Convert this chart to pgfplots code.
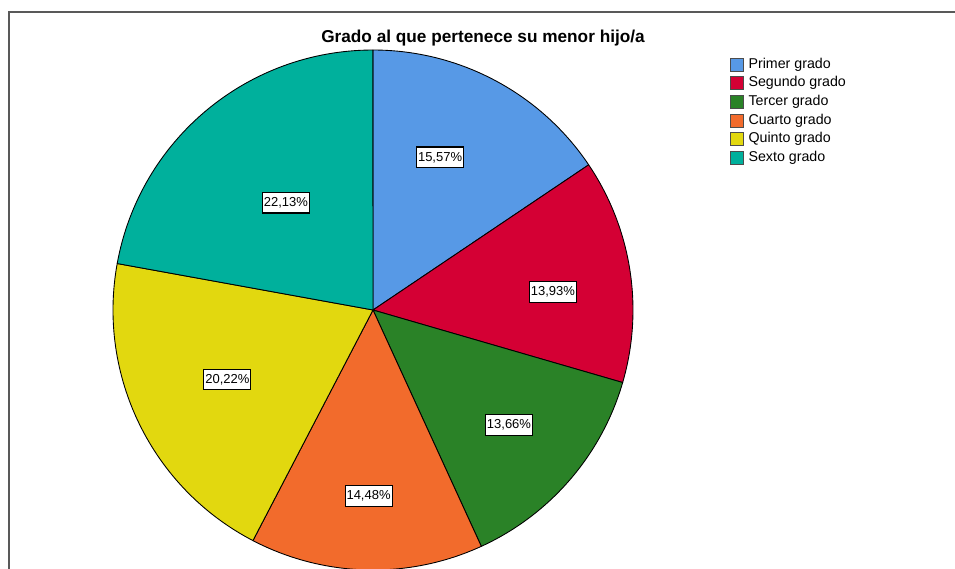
\documentclass[border=0pt]{standalone}
\usepackage{pgfplots}
\pgfplotsset{compat=1.18}
\usepackage{pgfplotstable}
\usepackage{fontspec}
\setmainfont{Liberation Sans}

\definecolor{c0}{RGB}{87,153,230}
\definecolor{c1}{RGB}{212,0,52}
\definecolor{c2}{RGB}{42,130,39}
\definecolor{c3}{RGB}{242,107,44}
\definecolor{c4}{RGB}{226,216,15}
\definecolor{c5}{RGB}{0,176,156}

\tikzset{lbl/.style={fill=white, draw=black, line width=0.6pt, inner xsep=0.8pt,
    inner ysep=2pt, text height=6pt, text depth=1.8pt,
    font=\fontsize{7.4}{8}\selectfont}}

% pct = porcentaje; lx, ly = centro de la etiqueta (radio = 1)
\pgfplotstableread{
grado   pct    lx      ly
Primer  15.57  0.258   0.587
Segundo 13.93  0.692   0.069
Tercer  13.66  0.523  -0.442
Cuarto  14.48 -0.017  -0.715
Quinto  20.22 -0.560  -0.267
Sexto   22.13 -0.335   0.413
}\grados

\begin{document}
\begin{tikzpicture}
\useasboundingbox (0,0) rectangle (19.1cm,11.36cm);
\begin{scope}
  \clip (0,0) rectangle (19.1cm,11.36cm);
  \draw[line width=0.8pt, black!65] (0.18cm,-1cm) rectangle (20cm,11.12cm);
\end{scope}
\node[font=\bfseries\fontsize{9.8}{11}\selectfont] at (9.66cm,10.6cm) {Grado al que pertenece su menor hijo/a};

\begin{axis}[
  at={(7.46cm,5.16cm)}, anchor=center,
  x=5.2cm, y=5.2cm,
  xmin=-1.1, xmax=1.1, ymin=-1.1, ymax=1.1,
  hide axis, clip=false,
  legend image code/.code={\draw[#1] (0pt,-3.7pt) rectangle (7.4pt,3.7pt);},
  legend style={at={(1.124,0.9415)}, anchor=north west, draw=none, fill=none,
    inner sep=0pt, row sep=2.8pt, column sep=2.6pt,
    font=\fontsize{8.1}{9}\selectfont,
    nodes={inner sep=0pt, text height=5.8pt, text depth=1.6pt},
    cells={anchor=west}},
]
\def\cum{0}
\pgfplotsforeachungrouped \i in {0,...,5}{%
  \pgfplotstablegetelem{\i}{pct}\of\grados
  \let\v\pgfplotsretval
  \pgfmathsetmacro\a{90-3.6*\cum}
  \pgfmathsetmacro\b{90-3.6*(\cum+\v)}
  \pgfmathsetmacro\cum{\cum+\v}
  \edef\temp{\noexpand\filldraw[fill=c\i, draw=black, line width=0.5pt, line join=round]
    (axis cs:0,0) -- (axis cs:{cos(\a)},{sin(\a)})
    arc[start angle=\a, end angle=\b, radius=5.2cm] -- cycle;}
  \temp
}
\pgfplotsforeachungrouped \i in {0,...,5}{%
  \pgfplotstablegetelem{\i}{pct}\of\grados
  \let\v\pgfplotsretval
  \pgfplotstablegetelem{\i}{lx}\of\grados
  \let\lx\pgfplotsretval
  \pgfplotstablegetelem{\i}{ly}\of\grados
  \let\ly\pgfplotsretval
  \edef\temp{\noexpand\node[lbl] at (axis cs:\lx,\ly)
    {\noexpand\pgfmathprintnumber[fixed,precision=2,fixed zerofill,use comma,assume math mode=true]{\v}\noexpand\%};}
  \temp
}
\addlegendimage{fill=c0, draw=black!70}\addlegendentry{Primer grado}
\addlegendimage{fill=c1, draw=black!70}\addlegendentry{Segundo grado}
\addlegendimage{fill=c2, draw=black!70}\addlegendentry{Tercer grado}
\addlegendimage{fill=c3, draw=black!70}\addlegendentry{Cuarto grado}
\addlegendimage{fill=c4, draw=black!70}\addlegendentry{Quinto grado}
\addlegendimage{fill=c5, draw=black!70}\addlegendentry{Sexto grado}
\end{axis}
\end{tikzpicture}
\end{document}
